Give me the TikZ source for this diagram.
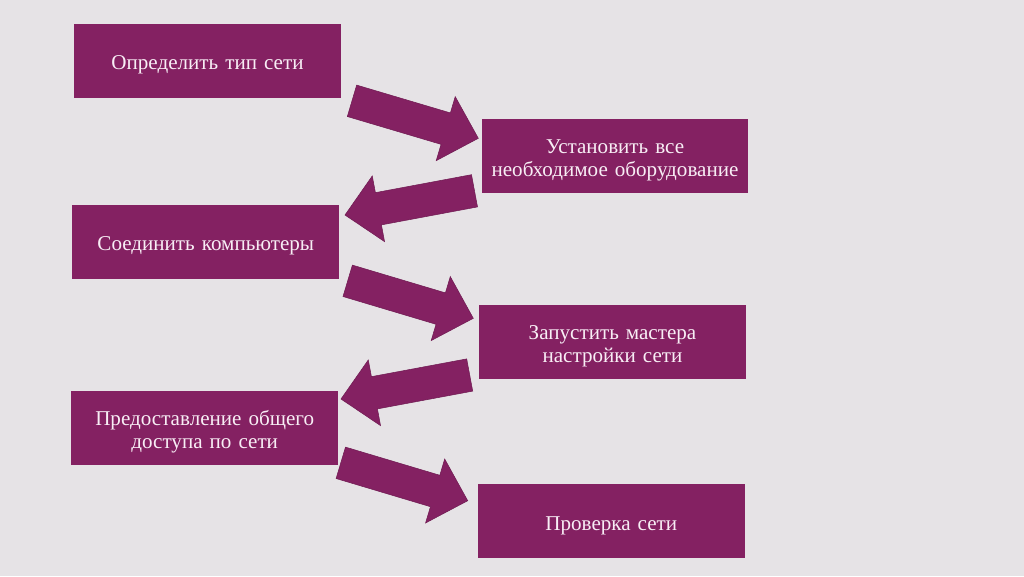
\documentclass[tikz,border=0pt]{standalone}
\usepackage{fontspec}
\setmainfont{Liberation Serif}
\usetikzlibrary{calc}
\definecolor{plum}{HTML}{842162}
\definecolor{paper}{HTML}{E6E3E6}
\definecolor{pale}{HTML}{F8EEF5}
\tikzset{ s/.style = { rectangle
                     , fill           = plum
                     , text           = pale
                     , inner sep      = 0pt
                     , minimum width  = 5.34cm
                     , minimum height = 1.48cm
                     , text width     = 5.3cm
                     , align          = center
                     , font           = \fontsize{12}{13.3}\selectfont
                     , execute at begin node = {\rule[-2.8pt]{0pt}{15.6pt}}
                     },
          a/.style = { fill       = plum
                     , draw       = plum!85!black
                     , line width = 0.3pt
                     , line join  = miter
                     }
        }
\begin{document}
\begin{tikzpicture}[x=0.02cm, y=-0.02cm]
    \fill[paper] (0,0) rectangle (1024,576);
    \foreach \n/\x/\y/\t in {1/207.5/61/{Определить тип сети},
                             2/615/156/{Установить все\\необходимое оборудование},
                             3/205.8/241.7/{Соединить компьютеры},
                             4/612.5/341.7/{Запустить мастера\\настройки сети},
                             5/204.7/428.3/{Предоставление общего\\доступа по сети},
                             6/611.3/521.3/{Проверка сети}} {
      \node[s] (s\n) at (\x,\y) {\t};
    }
    \foreach \n/\x/\y/\u/\v in {1/352/100.8/478.3/138.3,
                                2/474.5/190.8/345/215,
                                3/347.7/280.8/473.3/318.3,
                                4/469.7/375/341/399,
                                5/340.8/462.8/467.7/500.7} {
      \coordinate (tail\n) at (\x,\y);
      \coordinate (tip\n)  at (\u,\v);
    }
    \foreach \n in {1,...,5} {
      \filldraw[a] ($(tail\n)!0.328cm!90:(tip\n)$)
        -- ($(tip\n)!0.68cm!(tail\n)!0.328cm!90:(tip\n)$)
        -- ($(tip\n)!0.68cm!(tail\n)!0.668cm!90:(tip\n)$)
        -- (tip\n)
        -- ($(tip\n)!0.68cm!(tail\n)!0.668cm!-90:(tip\n)$)
        -- ($(tip\n)!0.68cm!(tail\n)!0.328cm!-90:(tip\n)$)
        -- ($(tail\n)!0.328cm!-90:(tip\n)$) -- cycle;
    }
  \end{tikzpicture}
\end{document}
